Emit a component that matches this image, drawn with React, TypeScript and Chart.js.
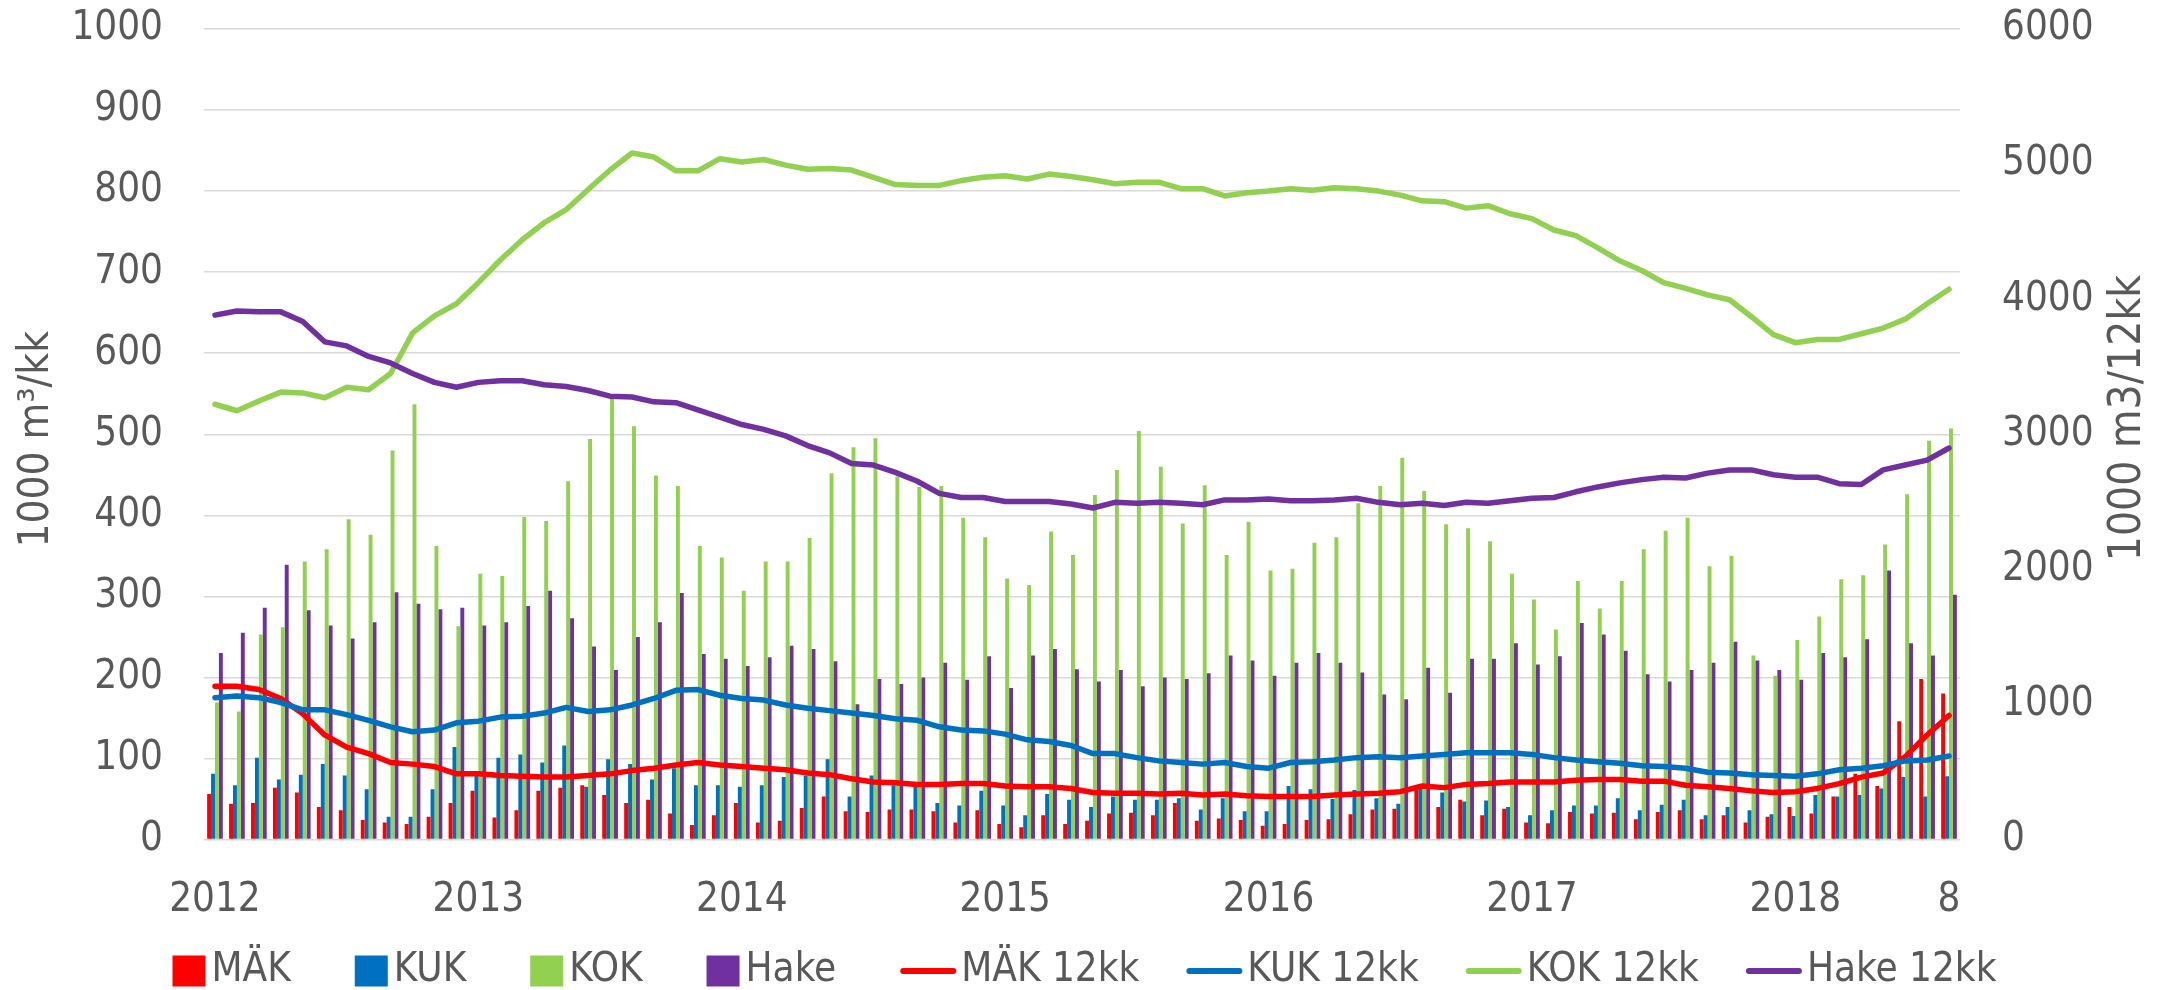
import React, { useEffect, useRef } from 'react';
import { Chart, registerables } from 'chart.js';

Chart.register(...registerables);

const categories = [
  '2012-01','2012-02','2012-03','2012-04','2012-05','2012-06','2012-07','2012-08','2012-09','2012-10','2012-11','2012-12',
  '2013-01','2013-02','2013-03','2013-04','2013-05','2013-06','2013-07','2013-08','2013-09','2013-10','2013-11','2013-12',
  '2014-01','2014-02','2014-03','2014-04','2014-05','2014-06','2014-07','2014-08','2014-09','2014-10','2014-11','2014-12',
  '2015-01','2015-02','2015-03','2015-04','2015-05','2015-06','2015-07','2015-08','2015-09','2015-10','2015-11','2015-12',
  '2016-01','2016-02','2016-03','2016-04','2016-05','2016-06','2016-07','2016-08','2016-09','2016-10','2016-11','2016-12',
  '2017-01','2017-02','2017-03','2017-04','2017-05','2017-06','2017-07','2017-08','2017-09','2017-10','2017-11','2017-12',
  '2018-01','2018-02','2018-03','2018-04','2018-05','2018-06','2018-07','2018-08',
];

const tickIndex = [0, 12, 24, 36, 48, 60, 72, 79];
const tickText = ['2012', '2013', '2014', '2015', '2016', '2017', '2018', '8'];

// monthly values, 1000 m3 (left axis)
const mak = [56,44,45,64,58,40,36,24,21,19,28,45, 60,27,36,60,64,67,55,45,49,32,18,30, 45,21,23,39,53,35,34,37,37,35,21,36, 19,15,30,19,23,32,33,30,45,23,26,24, 17,19,24,25,31,37,38,67,40,49,30,38, 21,20,34,32,33,25,34,36,25,30,21,28, 40,32,53,81,66,146,198,180];
const kuk = [81,67,101,74,80,93,79,62,28,28,62,114, 79,101,105,95,116,65,99,93,74,88,67,67, 65,67,77,79,99,53,79,67,65,45,42,60, 42,30,56,49,40,53,49,49,51,37,51,35, 35,66,62,50,61,51,44,66,58,47,48,40, 30,36,42,42,51,36,43,49,30,40,36,31, 29,55,53,55,63,77,53,78];
const kok = [169,158,253,262,343,358,395,376,480,537,362,263, 328,325,398,393,442,494,544,510,449,436,362,348, 307,343,343,372,452,484,495,448,435,436,397,373, 322,314,380,351,425,456,504,460,390,437,351,392, 332,334,366,373,415,436,471,430,389,384,368,328, 296,259,319,285,319,358,381,397,337,350,227,202, 246,275,321,326,364,426,492,507];
const hake = [230,255,286,339,283,264,248,268,305,291,284,286, 264,268,288,307,273,238,209,250,268,304,229,223, 214,225,239,235,220,167,198,192,200,218,197,226, 187,227,235,210,195,209,189,200,198,205,227,221, 202,218,230,218,206,179,173,212,181,223,223,242, 216,226,267,253,233,204,195,209,218,244,221,209, 197,230,225,247,332,242,227,302];

// 12-month totals, 1000 m3 (right axis)
const mak12 = [1134,1134,1110,1044,930,774,684,636,570,558,540,486, 486,474,468,462,462,474,486,510,528,552,570,552, 540,528,516,492,480,450,426,420,408,408,414,414, 396,390,390,378,348,342,342,336,342,330,336,324, 318,318,318,330,336,342,354,396,384,408,414,426, 426,426,438,444,444,432,432,402,390,378,360,348, 354,378,414,462,492,612,774,918];
const kuk12 = [1050,1062,1050,1014,960,960,924,882,834,798,810,864, 876,906,912,936,978,948,960,996,1044,1104,1110,1068, 1044,1032,996,972,954,936,918,894,882,834,810,804, 780,738,726,696,636,636,606,582,570,558,570,540, 528,570,576,588,606,612,606,618,630,642,642,642, 630,606,588,576,564,546,540,528,498,492,480,474, 468,486,516,528,546,582,588,618];
const kok12 = [3222,3174,3246,3312,3306,3270,3348,3330,3450,3750,3876,3966, 4122,4290,4440,4566,4662,4812,4956,5082,5052,4950,4950,5040, 5016,5034,4992,4962,4968,4956,4902,4848,4842,4842,4878,4902, 4914,4890,4926,4908,4884,4854,4866,4866,4818,4818,4764,4788, 4800,4818,4806,4824,4818,4800,4770,4728,4722,4674,4692,4632, 4596,4512,4470,4380,4284,4212,4122,4080,4032,3996,3870,3738, 3678,3702,3702,3744,3786,3852,3966,4074];
const hake12 = [3882,3912,3906,3906,3834,3684,3654,3576,3528,3450,3384,3348, 3384,3396,3396,3366,3354,3324,3282,3276,3240,3234,3180,3126, 3072,3036,2988,2916,2862,2784,2772,2718,2652,2562,2532,2532, 2502,2502,2502,2484,2454,2496,2490,2496,2490,2478,2514,2514, 2520,2508,2508,2514,2526,2496,2478,2490,2472,2496,2490,2508, 2526,2532,2574,2610,2640,2664,2682,2676,2712,2736,2736,2700, 2682,2682,2634,2628,2736,2772,2808,2898];

const FONT = "'DejaVu Sans Condensed', 'DejaVu Sans', sans-serif";
const TEXT = '#595959';
const RED = '#FF0000';
const BLUE = '#0070C0';
const GREEN = '#92D050';
const PURPLE = '#7030A0';
const FS = 40;

const decorPlugin = {
  id: 'decor',
  afterDraw(chart: any) {
    const ctx = chart.ctx as CanvasRenderingContext2D;
    const area = chart.chartArea;
    ctx.save();
    ctx.fillStyle = TEXT;
    ctx.textBaseline = 'middle';
    ctx.textAlign = 'center';
    // axis titles
    ctx.font = `42px ${FONT}`;
    ctx.save();
    ctx.translate(37.5, (area.top + area.bottom) / 2 + 5);
    ctx.rotate(-Math.PI / 2);
    ctx.fillText('1000 m³/kk', 0, 0);
    ctx.restore();
    ctx.font = `44px ${FONT}`;
    ctx.save();
    ctx.translate(2128.5, 418);
    ctx.rotate(-Math.PI / 2);
    ctx.fillText('1000 m3/12kk', 0, 0);
    ctx.restore();

    // legend
    ctx.font = `${FS}px ${FONT}`;
    ctx.textAlign = 'left';
    const items = chart.data.datasets.map((ds: any) => ({
      text: ds.label as string,
      color: (ds.type === 'line' ? ds.borderColor : ds.backgroundColor) as string,
      line: ds.type === 'line',
    }));
    const parts = items.map((it: any) => {
      const marker = it.line ? 56 : 33;
      const gap = it.line ? 5 : 6;
      const trail = it.line ? 47 : 64;
      const tw = ctx.measureText(it.text).width;
      return { ...it, marker, gap, trail, tw };
    });
    let total = 0;
    parts.forEach((p: any, i: number) => {
      total += p.marker + p.gap + p.tw + (i < parts.length - 1 ? p.trail : 0);
    });
    let x = (chart.width - total) / 2 - 3;
    const cy = 971;
    parts.forEach((p: any) => {
      if (p.line) {
        ctx.strokeStyle = p.color;
        ctx.lineWidth = 6;
        ctx.lineCap = 'round';
        ctx.beginPath();
        ctx.moveTo(x + 3, cy);
        ctx.lineTo(x + p.marker - 3, cy);
        ctx.stroke();
      } else {
        ctx.fillStyle = p.color;
        ctx.fillRect(x, cy - 15.5, p.marker, 31);
      }
      x += p.marker + p.gap;
      ctx.fillStyle = TEXT;
      ctx.fillText(p.text, x, cy);
      x += p.tw + p.trail;
    });
    ctx.restore();
  },
};

export default function App() {
  const canvasRef = useRef<HTMLCanvasElement | null>(null);

  useEffect(() => {
    document.body.style.margin = '0';
    const canvas = canvasRef.current;
    if (!canvas) return;
    Chart.defaults.font.family = FONT;
    const tickFont = { size: FS, family: FONT };
    const barCommon = { categoryPercentage: 0.715, barPercentage: 1.0, borderWidth: 0, order: 10, yAxisID: 'y' };
    const lineCommon = {
      type: 'line' as const,
      yAxisID: 'y1',
      borderWidth: 5.5,
      pointRadius: 0,
      pointHoverRadius: 0,
      tension: 0,
      fill: false,
      borderJoinStyle: 'round' as const,
      borderCapStyle: 'round' as const,
    };
    const noPad = (s: any) => {
      s.paddingTop = 0;
      s.paddingBottom = 0;
    };
    const chart = new Chart(canvas, {
      type: 'bar',
      data: {
        labels: categories,
        datasets: [
          { ...barCommon, type: 'bar', label: 'MÄK', data: mak, backgroundColor: RED },
          { ...barCommon, type: 'bar', label: 'KUK', data: kuk, backgroundColor: BLUE },
          { ...barCommon, type: 'bar', label: 'KOK', data: kok, backgroundColor: GREEN },
          { ...barCommon, type: 'bar', label: 'Hake', data: hake, backgroundColor: PURPLE },
          { ...lineCommon, label: 'MÄK 12kk', data: mak12, borderColor: RED, backgroundColor: RED, order: 4 },
          { ...lineCommon, label: 'KUK 12kk', data: kuk12, borderColor: BLUE, backgroundColor: BLUE, order: 3 },
          { ...lineCommon, label: 'KOK 12kk', data: kok12, borderColor: GREEN, backgroundColor: GREEN, order: 2 },
          { ...lineCommon, label: 'Hake 12kk', data: hake12, borderColor: PURPLE, backgroundColor: PURPLE, order: 1 },
        ] as any,
      },
      options: {
        responsive: false,
        animation: false,
        devicePixelRatio: 1,
        layout: { padding: { top: 29, left: 0, right: 0, bottom: 0 } },
        plugins: { legend: { display: false }, tooltip: { enabled: false } },
        scales: {
          x: {
            type: 'category',
            offset: true,
            grid: { display: false, drawTicks: false },
            border: { display: false },
            ticks: {
              autoSkip: false,
              maxRotation: 0,
              minRotation: 0,
              padding: 37,
              color: TEXT,
              font: tickFont,
              callback: (v: any) => {
                const k = tickIndex.indexOf(Number(v));
                return k >= 0 ? tickText[k] : '';
              },
            },
            afterBuildTicks: (s: any) => {
              s.ticks = tickIndex.map((v) => ({ value: v }));
            },
            afterFit: (s: any) => {
              s.height = 150.5;
            },
          },
          y: {
            position: 'left',
            min: 0,
            max: 1000,
            ticks: { stepSize: 100, padding: 41, color: TEXT, font: tickFont, callback: (v: any) => String(v) },
            grid: { color: '#d9d9d9', lineWidth: 1.5, drawTicks: false },
            border: { display: false },
            afterFit: (s: any) => {
              s.width = 204;
              noPad(s);
            },
          },
          y1: {
            position: 'right',
            min: 0,
            max: 6000,
            ticks: { stepSize: 1000, padding: 42, color: TEXT, font: tickFont, callback: (v: any) => String(v) },
            grid: { drawOnChartArea: false, drawTicks: false },
            border: { display: false },
            afterFit: (s: any) => {
              s.width = 215;
              noPad(s);
            },
          },
        },
      } as any,
      plugins: [decorPlugin],
    });
    return () => chart.destroy();
  }, []);

  return (
    <div style={{ width: 2175, height: 990, position: 'relative', background: '#fff' }}>
      <canvas ref={canvasRef} width={2175} height={990} style={{ width: 2175, height: 990, display: 'block' }} />
    </div>
  );
}
